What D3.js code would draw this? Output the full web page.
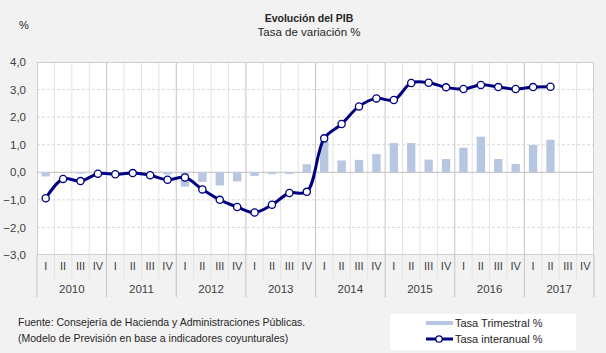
<!DOCTYPE html>
<html>
<head>
<meta charset="utf-8">
<script src="https://cdn.jsdelivr.net/npm/d3@7"></script>
<style>
  html, body { margin: 0; padding: 0; background: #f2f2f2; }
  svg { display: block; font-family: "Liberation Sans", Arial, sans-serif; }
</style>
</head>
<body>
<svg id="chart" width="606" height="353"></svg>
<script>
// ---- data ----
const years = ["2010", "2011", "2012", "2013", "2014", "2015", "2016", "2017"];
const quarterLabels = ["I", "II", "III", "IV"];
const yTicks = [-3, -2, -1, 0, 1, 2, 3, 4];
const tasaTrimestral = [
  -0.15, 0.0, -0.05, 0.0,
  0.0, 0.05, 0.0, -0.08,
  -0.52, -0.35, -0.48, -0.33,
  -0.13, -0.07, -0.06, 0.29,
  1.13, 0.43, 0.45, 0.66,
  1.06, 1.06, 0.46, 0.48,
  0.89, 1.29, 0.48, 0.30,
  0.99, 1.18
];
const tasaInteranual = [
  -0.94, -0.24, -0.32, -0.05,
  -0.07, -0.03, -0.11, -0.27,
  -0.19, -0.62, -1.0, -1.26,
  -1.46, -1.18, -0.75, -0.71,
  1.23, 1.75, 2.39, 2.68,
  2.62, 3.24, 3.25, 3.08,
  3.02, 3.17, 3.09, 3.02,
  3.09, 3.10
];
const seriesNames = ["Tasa Trimestral %", "Tasa interanual %"];

// ---- layout ----
const svg = d3.select("#chart");
const L = 37, R = 594, T = 62, B = 255;
const nQ = years.length * 4;
const idx = d3.range(nQ);

const x = d3.scaleBand().domain(idx).range([L, R]).paddingInner(0).paddingOuter(0);
const xYear = d3.scaleBand().domain(years).range([L, R]);
const y = d3.scaleLinear().domain([-3, 4]).range([B, T]);
const fmt = v => d3.format(".1f")(v).replace(".", ",").replace("-", "-");

// plot background
svg.append("rect").attr("x", L).attr("y", T).attr("width", R - L).attr("height", B - T).attr("fill", "#ffffff");

// horizontal grid (dashed)
svg.append("g").selectAll("line").data(yTicks.filter(v => v !== 0 && v !== -3 && v !== 4)).join("line")
  .attr("x1", L).attr("x2", R).attr("y1", d => y(d)).attr("y2", d => y(d))
  .attr("stroke", "#d9d9d9").attr("stroke-width", 1).attr("stroke-dasharray", "3,2");

// vertical grid: quarter boundaries
svg.append("g").selectAll("line").data(d3.range(1, nQ)).join("line")
  .attr("x1", d => x(d)).attr("x2", d => x(d))
  .attr("y1", T).attr("y2", d => d % 4 === 0 ? 297 : 279)
  .attr("stroke", d => d % 4 === 0 ? "#c4c4c4" : "#e3e3e3").attr("stroke-width", 1);
// outer edges extend below
[L, R].forEach(px => {
  svg.append("line").attr("x1", px).attr("x2", px).attr("y1", B).attr("y2", 297)
    .attr("stroke", "#c4c4c4");
});

// zero line
svg.append("line").attr("x1", L).attr("x2", R).attr("y1", y(0)).attr("y2", y(0))
  .attr("stroke", "#bfbfbf").attr("stroke-width", 1);

// plot border
svg.append("rect").attr("x", L + 0.5).attr("y", T + 0.5).attr("width", R - L - 1).attr("height", B - T - 1)
  .attr("fill", "none").attr("stroke", "#cfcfcf").attr("stroke-width", 1);

// bars
const bw = x.bandwidth() * 0.48;
svg.append("g").selectAll("rect").data(tasaTrimestral).join("rect")
  .attr("x", (d, i) => x(i) + (x.bandwidth() - bw) / 2)
  .attr("width", bw)
  .attr("y", d => y(Math.max(0, d)))
  .attr("height", d => Math.abs(y(d) - y(0)))
  .attr("fill", "#b7c7e2");

// line
const line = d3.line()
  .x((d, i) => x(i) + x.bandwidth() / 2)
  .y(d => y(d))
  .curve(d3.curveCatmullRom.alpha(0.5));
svg.append("path").datum(tasaInteranual).attr("d", line)
  .attr("fill", "none").attr("stroke", "#000080").attr("stroke-width", 3).attr("stroke-linejoin", "round");
svg.append("g").selectAll("circle").data(tasaInteranual).join("circle")
  .attr("cx", (d, i) => x(i) + x.bandwidth() / 2)
  .attr("cy", d => y(d))
  .attr("r", 3.6)
  .attr("fill", "#ffffff").attr("stroke", "#000080").attr("stroke-width", 1.3);

// y axis
const yAxis = svg.append("g").attr("transform", `translate(${L},0)`)
  .call(d3.axisLeft(y).tickValues(yTicks).tickFormat(fmt).tickSize(0).tickPadding(11));
yAxis.select(".domain").remove();
yAxis.selectAll("text").attr("font-size", 11.5).attr("fill", "#404040")
  .attr("font-family", "Liberation Sans, Arial, sans-serif");

// x axis: quarters
const xAxis = svg.append("g").attr("transform", `translate(0,${B})`)
  .call(d3.axisBottom(x).tickFormat(i => quarterLabels[i % 4]).tickSize(0).tickPadding(7));
xAxis.select(".domain").remove();
xAxis.selectAll("text").attr("font-size", 11).attr("fill", "#404040")
  .attr("font-family", "Liberation Sans, Arial, sans-serif");

// x axis: years
const yearAxis = svg.append("g").attr("transform", `translate(0,${B + 23})`)
  .call(d3.axisBottom(xYear).tickSize(0).tickPadding(7));
yearAxis.select(".domain").remove();
yearAxis.selectAll("text").attr("font-size", 11.5).attr("fill", "#404040")
  .attr("font-family", "Liberation Sans, Arial, sans-serif");

// titles
svg.append("text").attr("x", 309).attr("y", 22).attr("text-anchor", "middle")
  .attr("font-size", 10.5).attr("font-weight", "bold").attr("fill", "#262626").text("Evolución del PIB");
svg.append("text").attr("x", 309).attr("y", 36).attr("text-anchor", "middle")
  .attr("font-size", 11.5).attr("fill", "#262626").text("Tasa de variación %");
svg.append("text").attr("x", 24).attr("y", 29).attr("text-anchor", "middle")
  .attr("font-size", 11).attr("fill", "#262626").text("%");

// source
svg.append("text").attr("x", 18).attr("y", 326).attr("font-size", 10.5).attr("fill", "#262626")
  .text("Fuente: Consejería de Hacienda y Administraciones Públicas.");
svg.append("text").attr("x", 18).attr("y", 342).attr("font-size", 10.5).attr("fill", "#262626")
  .text("(Modelo de Previsión en base a indicadores coyunturales)");

// legend
const lg = svg.append("g");
lg.append("rect").attr("x", 390).attr("y", 314).attr("width", 186).attr("height", 36).attr("fill", "#ffffff");
lg.append("rect").attr("x", 426).attr("y", 321).attr("width", 27).attr("height", 4).attr("fill", "#b7c7e2");
lg.append("text").attr("x", 455).attr("y", 327).attr("font-size", 11).attr("fill", "#262626").text(seriesNames[0]);
lg.append("line").attr("x1", 426).attr("x2", 453).attr("y1", 339).attr("y2", 339)
  .attr("stroke", "#000080").attr("stroke-width", 3);
lg.append("circle").attr("cx", 439).attr("cy", 339).attr("r", 3.2)
  .attr("fill", "#fff").attr("stroke", "#000080").attr("stroke-width", 1.3);
lg.append("text").attr("x", 455).attr("y", 343).attr("font-size", 11).attr("fill", "#262626").text(seriesNames[1]);
</script>
</body>
</html>
